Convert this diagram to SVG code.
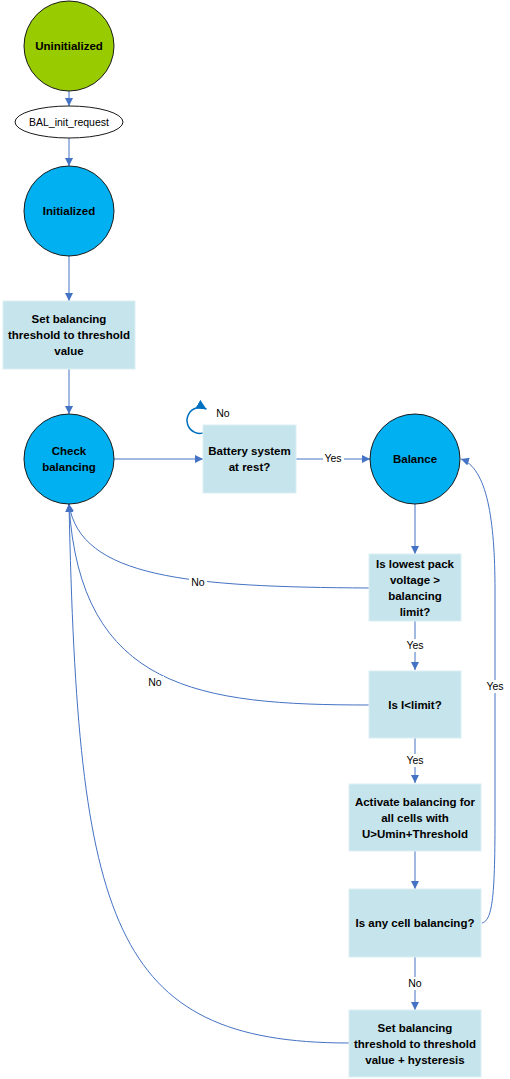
<svg xmlns="http://www.w3.org/2000/svg" width="510" height="1079" viewBox="0 0 510 1079">
<style>
.bg{fill:#ffffff}
.state{stroke:#1a1a1a;stroke-width:1}
.green{fill:#99CC00}
.blue{fill:#00B0F0}
.box{fill:#C6E4EC;stroke:#DCEFF4;stroke-width:1}
.t{font-family:"Liberation Sans",Arial,sans-serif;font-size:11.5px;font-weight:bold;fill:#000;text-anchor:middle;dominant-baseline:central}
.lbl{font-family:"Liberation Sans",Arial,sans-serif;font-size:10.5px;fill:#000;text-anchor:middle;dominant-baseline:central}
.c{fill:none;stroke:#4472C4;stroke-width:1}
.lb{fill:#fff}
</style>
<defs>
<marker id="ah" viewBox="0 0 10 10" refX="10" refY="5" markerWidth="8" markerHeight="8" markerUnits="userSpaceOnUse" orient="auto">
<path d="M0,0 L10,5 L0,10 z" fill="#4472C4"/>
</marker>
<marker id="ah2" viewBox="0 0 10 10" refX="10" refY="5" markerWidth="10" markerHeight="10" markerUnits="userSpaceOnUse" orient="auto">
<path d="M0,0 L10,5 L0,10 z" fill="#0070C0"/>
</marker>
</defs>
<rect class="bg" x="0" y="0" width="510" height="1079"/>

<g id="connectors">
<path class="c" d="M69,91 L69,106" marker-end="url(#ah)"/>
<path class="c" d="M69,138 L69,166" marker-end="url(#ah)"/>
<path class="c" d="M69,256 L69,301" marker-end="url(#ah)"/>
<path class="c" d="M69,369 L69,414" marker-end="url(#ah)"/>
<path class="c" d="M114,459 L203,459" marker-end="url(#ah)"/>
<path class="c" d="M296,459 L370,459" marker-end="url(#ah)"/>
<rect class="lb" x="323" y="452" width="21" height="13"/>
<text class="lbl" x="333" y="458">Yes</text>
<path d="M212.2,425 A13,13 0 1 1 206.5,409.2" fill="none" stroke="#0070C0" stroke-width="1.5" marker-end="url(#ah2)"/>
<text class="lbl" x="223" y="413">No</text>
<path class="c" d="M415,504 L415,554" marker-end="url(#ah)"/>
<path class="c" d="M415,621 L415,670" marker-end="url(#ah)"/>
<rect class="lb" x="404" y="639" width="22" height="13"/>
<text class="lbl" x="415" y="645">Yes</text>
<path class="c" d="M415,738 L415,783" marker-end="url(#ah)"/>
<rect class="lb" x="404" y="754" width="22" height="13"/>
<text class="lbl" x="415" y="760">Yes</text>
<path class="c" d="M415,851 L415,889" marker-end="url(#ah)"/>
<path class="c" d="M415,957 L415,1010" marker-end="url(#ah)"/>
<rect class="lb" x="406" y="977" width="18" height="13"/>
<text class="lbl" x="415" y="983">No</text>
<path class="c" d="M482,923 C492,920 495,900 495,820 L495,590 C495,520 487,468 461,459" marker-end="url(#ah)"/>
<rect class="lb" x="484" y="680" width="22" height="13"/>
<text class="lbl" x="495" y="686">Yes</text>
<path class="c" d="M369,588 C190,587 80,578 69,504" marker-end="url(#ah)"/>
<rect class="lb" x="189" y="576" width="18" height="13"/>
<text class="lbl" x="198" y="582">No</text>
<path class="c" d="M369,705 C200,705 80,690 69,504" marker-end="url(#ah)"/>
<rect class="lb" x="146" y="676" width="18" height="13"/>
<text class="lbl" x="155" y="682">No</text>
<path class="c" d="M349,1043 C110,1043 78,920 69,504" marker-end="url(#ah)"/>
</g>

<g id="uninitialized">
<circle class="state green" cx="69" cy="46" r="45"/>
<text class="t" x="69" y="46">Uninitialized</text>
</g>
<g id="bal_init_request">
<ellipse cx="69" cy="122" rx="54" ry="16" fill="#fff" stroke="#1a1a1a" stroke-width="1"/>
<text class="lbl" x="69" y="122">BAL_init_request</text>
</g>
<g id="initialized">
<circle class="state blue" cx="69" cy="211" r="45"/>
<text class="t" x="69" y="211">Initialized</text>
</g>
<g id="set_threshold">
<rect class="box" x="3" y="301" width="132" height="68"/>
<text class="t" x="69" y="319">Set balancing</text>
<text class="t" x="69" y="335">threshold to threshold</text>
<text class="t" x="69" y="351">value</text>
</g>
<g id="check_balancing">
<circle class="state blue" cx="69" cy="459" r="45"/>
<text class="t" x="69" y="451">Check</text>
<text class="t" x="69" y="467">balancing</text>
</g>
<g id="battery_rest">
<rect class="box" x="203" y="425" width="93" height="68"/>
<text class="t" x="249.5" y="451">Battery system</text>
<text class="t" x="249.5" y="467">at rest?</text>
</g>
<g id="balance">
<circle class="state blue" cx="415" cy="459" r="45"/>
<text class="t" x="415" y="459">Balance</text>
</g>
<g id="lowest_pack">
<rect class="box" x="369" y="554" width="92" height="67"/>
<text class="t" x="415" y="564">Is lowest pack</text>
<text class="t" x="415" y="580">voltage &gt;</text>
<text class="t" x="415" y="596">balancing</text>
<text class="t" x="415" y="612">limit?</text>
</g>
<g id="i_limit">
<rect class="box" x="369" y="671" width="92" height="67"/>
<text class="t" x="415" y="705">Is I&lt;limit?</text>
</g>
<g id="activate">
<rect class="box" x="349" y="784" width="132" height="67"/>
<text class="t" x="415" y="802">Activate balancing for</text>
<text class="t" x="415" y="818">all cells with</text>
<text class="t" x="415" y="834">U&gt;Umin+Threshold</text>
</g>
<g id="any_cell">
<rect class="box" x="349" y="889" width="132" height="68"/>
<text class="t" x="415" y="923">Is any cell balancing?</text>
</g>
<g id="set_hysteresis">
<rect class="box" x="349" y="1010" width="132" height="67"/>
<text class="t" x="415" y="1028">Set balancing</text>
<text class="t" x="415" y="1044">threshold to threshold</text>
<text class="t" x="415" y="1060">value + hysteresis</text>
</g>
</svg>
